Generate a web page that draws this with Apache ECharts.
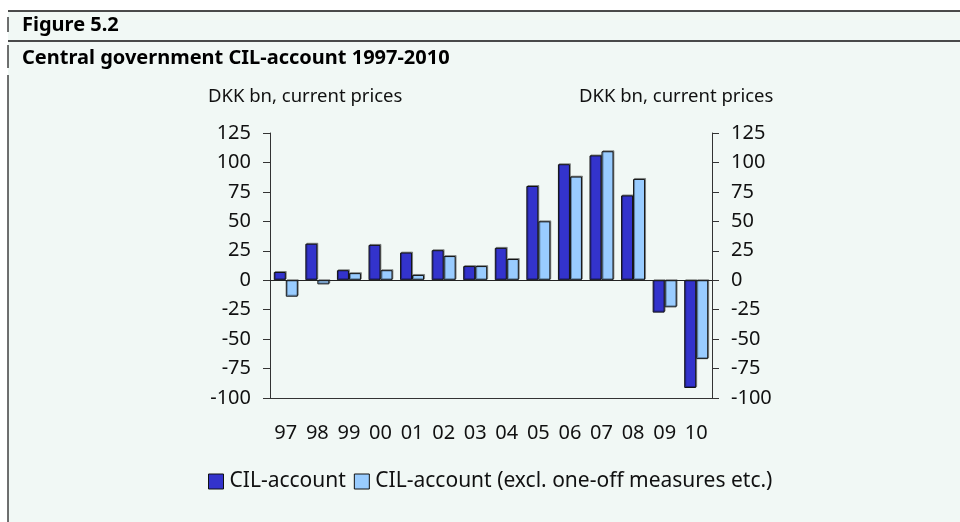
<!DOCTYPE html>
<html lang="en">
<head>
    <meta charset="UTF-8">
    <title>Figure 5.2</title>
    <script src="https://cdn.jsdelivr.net/npm/echarts@6/dist/echarts.min.js"></script>
    <style>
        html, body { margin: 0; padding: 0; background: #fff; }
        #chart { width: 960px; height: 522px; }
    </style>
</head>
<body>
    <div id="chart"></div>
    <script>
        // data
        var years = ['97', '98', '99', '00', '01', '02', '03', '04', '05', '06', '07', '08', '09', '10'];
        var cilAccount = [7, 31, 8.5, 30, 23.5, 25.5, 12, 27.5, 80, 98.5, 106, 72, -27.5, -91.5];
        var cilExclOneOff = [-14, -3.5, 6, 8.5, 4.5, 20.5, 12, 18, 50, 88, 109.5, 86, -23, -67];
        var seriesNames = ['CIL-account', 'CIL-account (excl. one-off measures etc.)'];
        var axisUnit = 'DKK bn, current prices';

        var font = 'Noto Sans';
        var myChart = echarts.init(document.getElementById('chart'));

        var yAxisBase = function (pos) {
            return {
                type: 'value',
                position: pos,
                min: -100,
                max: 125,
                interval: 25,
                splitLine: { show: false },
                axisLine: { show: true, lineStyle: { color: '#333', width: 1 } },
                axisTick: { show: true, inside: false, length: 7, lineStyle: { color: '#333' } },
                axisLabel: { margin: 19, color: '#111', fontSize: 20, fontFamily: font }
            };
        };

        var barStyle = function (color) {
            return {
                color: color,
                borderColor: '#111',
                borderWidth: 1,
                shadowColor: 'rgba(0,0,0,0.35)',
                shadowBlur: 0,
                shadowOffsetX: 1,
                shadowOffsetY: -1
            };
        };

        var option = {
            backgroundColor: '#fff',
            animation: false,
            textStyle: { fontFamily: font },
            graphic: [
                // mint panel and the frame lines
                { type: 'rect', z: -10, shape: { x: 8, y: 11, width: 952, height: 511 }, style: { fill: '#f1f8f5' } },
                { type: 'line', shape: { x1: 8, y1: 11, x2: 960, y2: 11 }, style: { stroke: '#111', lineWidth: 1.5 } },
                { type: 'line', shape: { x1: 8, y1: 41, x2: 960, y2: 41 }, style: { stroke: '#111', lineWidth: 1.5 } },
                { type: 'line', shape: { x1: 8, y1: 17, x2: 8, y2: 32 }, style: { stroke: '#111', lineWidth: 1.2 } },
                { type: 'line', shape: { x1: 8, y1: 45, x2: 8, y2: 68 }, style: { stroke: '#111', lineWidth: 1.2 } },
                { type: 'line', shape: { x1: 8, y1: 75, x2: 8, y2: 522 }, style: { stroke: '#111', lineWidth: 1.2 } },
                { type: 'text', left: 22, top: 15, style: { text: 'Figure 5.2', font: 'bold 20px "Noto Sans"', fill: '#000' } },
                { type: 'text', left: 22, top: 48, style: { text: 'Central government CIL-account 1997-2010', font: 'bold 20px "Noto Sans"', fill: '#000' } },
                { type: 'text', left: 208, top: 87, style: { text: axisUnit, font: '18.5px "Noto Sans"', fill: '#111' } },
                { type: 'text', left: 579, top: 87, style: { text: axisUnit, font: '18.5px "Noto Sans"', fill: '#111' } }
            ],
            grid: { left: 270, right: 248, top: 133, bottom: 124, containLabel: false },
            legend: {
                top: 466,
                left: 203,
                itemWidth: 15,
                itemHeight: 15,
                itemGap: 8,
                icon: 'rect',
                itemStyle: { borderColor: '#111', borderWidth: 1 },
                textStyle: { fontSize: 21, color: '#111', fontFamily: font, padding: [0, 0, 0, 1] },
                data: seriesNames
            },
            xAxis: {
                type: 'category',
                data: years,
                axisLine: { onZero: false, lineStyle: { color: '#333', width: 1 } },
                axisTick: { show: false },
                axisLabel: { margin: 25, color: '#111', fontSize: 20, fontFamily: font, interval: 0 }
            },
            yAxis: [yAxisBase('left'), yAxisBase('right')],
            series: [
                {
                    name: seriesNames[0],
                    type: 'bar',
                    data: cilAccount,
                    barWidth: 12,
                    barGap: '0%',
                    itemStyle: barStyle('#3333cc'),
                    markLine: {
                        silent: true,
                        symbol: 'none',
                        label: { show: false },
                        lineStyle: { color: '#222', type: 'solid', width: 1 },
                        data: [{ yAxis: 0 }]
                    }
                },
                {
                    name: seriesNames[1],
                    type: 'bar',
                    data: cilExclOneOff,
                    barWidth: 12,
                    barGap: '0%',
                    itemStyle: barStyle('#99ccff')
                }
            ]
        };

        myChart.setOption(option);
    </script>
</body>
</html>
